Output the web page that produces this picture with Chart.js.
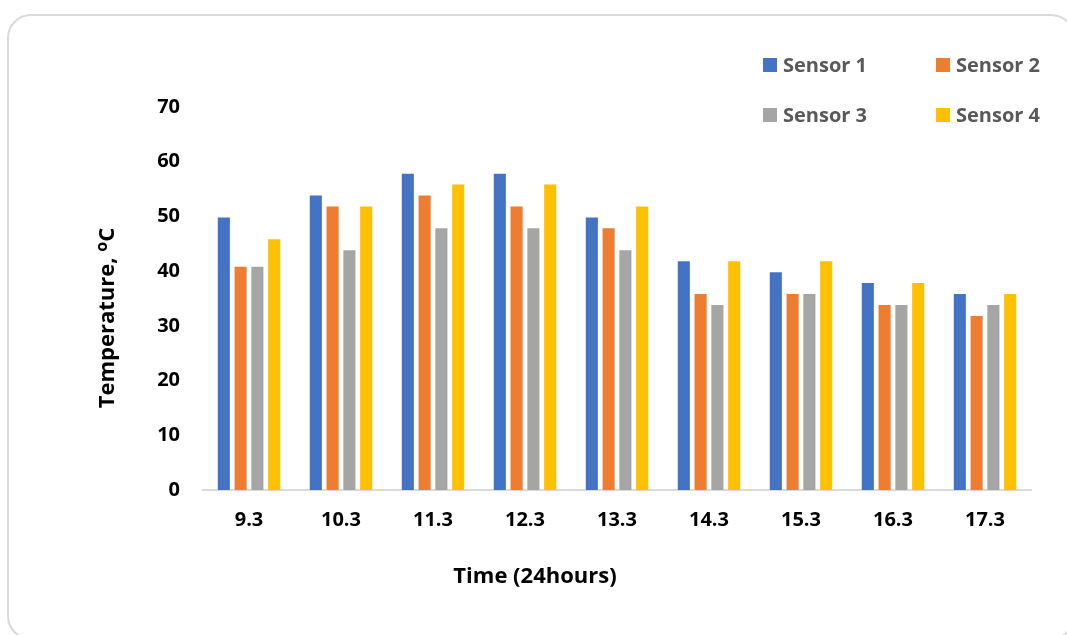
<!DOCTYPE html>
<html>
<head>
<meta charset="utf-8">
<script src="https://cdn.jsdelivr.net/npm/chart.js@4/dist/chart.umd.min.js"></script>
<style>
  html, body { margin: 0; padding: 0; background: #fff; overflow: hidden; }
  #wrap { position: relative; width: 1067px; height: 635px; }
  #frame { position: absolute; left: 7px; top: 14px; width: 1068px; height: 626px;
           border: 2px solid #d9d9d9; border-radius: 24px; box-sizing: border-box; }
  canvas { position: absolute; left: 0; top: 0; }
</style>
</head>
<body>
<div id="wrap">
  <div id="frame"></div>
  <canvas id="c" width="1067" height="635"></canvas>
</div>
<script>
const categories = ['9.3', '10.3', '11.3', '12.3', '13.3', '14.3', '15.3', '16.3', '17.3'];
const sensor1 = [50, 54, 58, 58, 50, 42, 40, 38, 36];
const sensor2 = [41, 52, 54, 52, 48, 36, 36, 34, 32];
const sensor3 = [41, 44, 48, 48, 44, 34, 36, 34, 34];
const sensor4 = [46, 52, 56, 56, 52, 42, 42, 38, 36];
const seriesNames = ['Sensor 1', 'Sensor 2', 'Sensor 3', 'Sensor 4'];
const colors = ['#4472C4', '#ED7D31', '#A5A5A5', '#FFC000'];
const yTicks = [0, 10, 20, 30, 40, 50, 60, 70];
const xTitle = 'Time (24hours)';
const yTitle = ['Temperature, ', 'o', 'C'];

const FONT = "'Open Sans', 'DejaVu Sans', sans-serif";

const customPlugin = {
  id: 'custom',
  afterDraw(chart) {
    const ctx = chart.ctx;
    ctx.save();
    // Legend (2 x 2 grid)
    const legendPos = [[763, 65], [936, 65], [763, 115], [936, 115]];
    ctx.font = "bold 20px " + FONT;
    ctx.textBaseline = 'middle';
    ctx.textAlign = 'left';
    chart.data.datasets.forEach((ds, i) => {
      const [lx, ly] = legendPos[i];
      ctx.fillStyle = ds.backgroundColor;
      ctx.fillRect(lx, ly - 7, 14, 14);
      ctx.fillStyle = '#595959';
      ctx.fillText(ds.label, lx + 20, ly + 1);
    });
    // X axis title
    ctx.fillStyle = '#000';
    ctx.font = "bold 22px " + FONT;
    ctx.textAlign = 'center';
    ctx.fillText(xTitle, 535, 577);
    // Y axis title (rotated) with superscript o
    ctx.translate(108, 318);
    ctx.rotate(-Math.PI / 2);
    const f1 = "bold 22px " + FONT, f2 = "bold 16px " + FONT;
    ctx.font = f1; const w1 = ctx.measureText(yTitle[0]).width; const w3 = ctx.measureText(yTitle[2]).width;
    ctx.font = f2; const w2 = ctx.measureText(yTitle[1]).width;
    let x = -(w1 + w2 + w3) / 2;
    ctx.textAlign = 'left';
    ctx.font = f1; ctx.fillText(yTitle[0], x, 0); x += w1;
    ctx.font = f2; ctx.fillText(yTitle[1], x, -6); x += w2;
    ctx.font = f1; ctx.fillText(yTitle[2], x, 0);
    ctx.restore();
  }
};

new Chart(document.getElementById('c'), {
  type: 'bar',
  data: {
    labels: categories,
    datasets: [sensor1, sensor2, sensor3, sensor4].map((d, i) => ({
      label: seriesNames[i],
      data: d,
      backgroundColor: colors[i],
      borderColor: 'rgba(255,255,255,0.5)',
      borderWidth: 1,
      categoryPercentage: 0.73,
      barPercentage: 0.84
    }))
  },
  options: {
    responsive: false,
    animation: false,
    layout: { padding: { left: 0, top: 107, right: 36, bottom: 0 } },
    plugins: { legend: { display: false }, tooltip: { enabled: false }, title: { display: false } },
    scales: {
      x: {
        grid: { display: false, drawTicks: false },
        border: { display: true, color: '#d9d9d9', width: 2 },
        ticks: { color: '#000', font: { family: FONT, size: 20, weight: 'bold' }, padding: 18, maxRotation: 0 },
        afterFit(s) { s.height = 145; }
      },
      y: {
        min: 0, max: 70,
        grid: { display: false, drawTicks: false },
        border: { display: false },
        afterBuildTicks(s) { s.ticks = yTicks.map(v => ({ value: v })); },
        ticks: { color: '#000', font: { family: FONT, size: 20, weight: 'bold' }, padding: 23 },
        afterFit(s) { s.width = 203; }
      }
    }
  },
  plugins: [customPlugin]
});
</script>
</body>
</html>
